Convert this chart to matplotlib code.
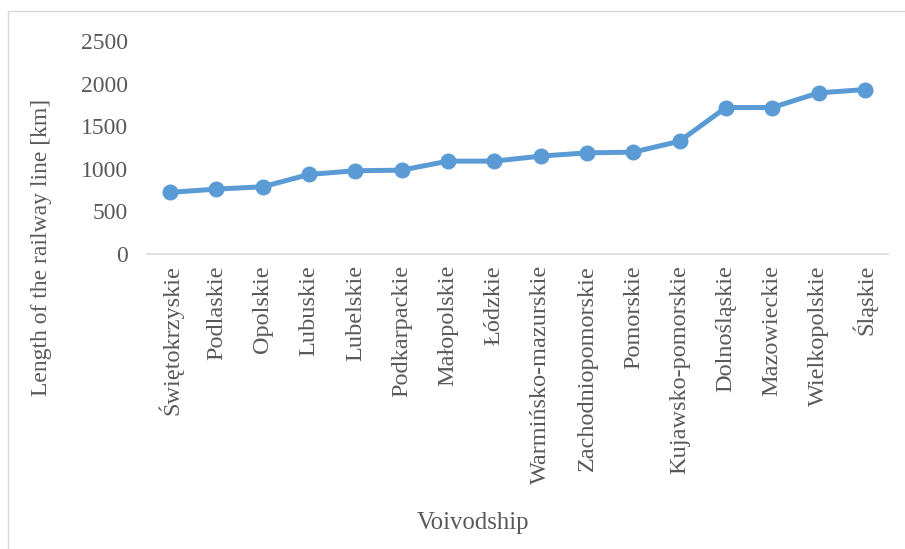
import matplotlib
matplotlib.use("Agg")
import matplotlib.pyplot as plt
from matplotlib.patches import Rectangle

categories = ["Świętokrzyskie", "Podlaskie", "Opolskie", "Lubuskie", "Lubelskie",
              "Podkarpackie", "Małopolskie", "Łódzkie", "Warmińsko-mazurskie",
              "Zachodniopomorskie", "Pomorskie", "Kujawsko-pomorskie", "Dolnośląskie",
              "Mazowieckie", "Wielkopolskie", "Śląskie"]
values = [723, 762, 789, 934, 977, 984, 1090, 1090, 1149, 1187, 1195, 1324, 1719, 1719, 1891, 1930]
yticks = [0, 500, 1000, 1500, 2000, 2500]

plt.rcParams['font.family'] = ['Liberation Serif', 'DejaVu Serif']
text_color = "#595959"
line_color = "#5B9BD5"

fig = plt.figure(figsize=(9.05, 5.49), dpi=100)
ax = fig.add_axes([147/905, 1-254/549, (888-147)/905, (254-41)/549])

x = list(range(len(categories)))
ax.plot(x, values, color=line_color, linewidth=3.6, marker='o', markersize=10.5,
        markerfacecolor=line_color, markeredgecolor=line_color, solid_capstyle='round')

ax.set_xlim(-0.5, len(categories) - 0.5)
ax.set_ylim(0, 2500)
ax.set_yticks(yticks)
ax.set_yticklabels([str(v) for v in yticks], fontsize=17, color=text_color)
ax.set_xticks(x)
ax.set_xticklabels(categories, rotation=90, fontsize=17.5, color=text_color, ha='center', va='top')
ax.tick_params(axis='both', length=0)
ax.tick_params(axis='y', pad=14)
ax.tick_params(axis='x', pad=8)

for s in ['top', 'right', 'left']:
    ax.spines[s].set_visible(False)
ax.spines['bottom'].set_color('#D9D9D9')
ax.spines['bottom'].set_linewidth(1.2)

fig.text(42/905, 1-247/549, "Length of the railway line [km]", rotation=90,
         ha='center', va='center', fontsize=17, color=text_color)
fig.text(473/905, 1-523/549, "Voivodship", ha='center', va='center',
         fontsize=17.8, color=text_color)

fig.patches.append(Rectangle((8/905, -0.05), 1.1, 1-11/549+0.05, transform=fig.transFigure,
                             fill=False, edgecolor='#D9D9D9', linewidth=1.0))

fig.savefig("out.png", dpi=100)
